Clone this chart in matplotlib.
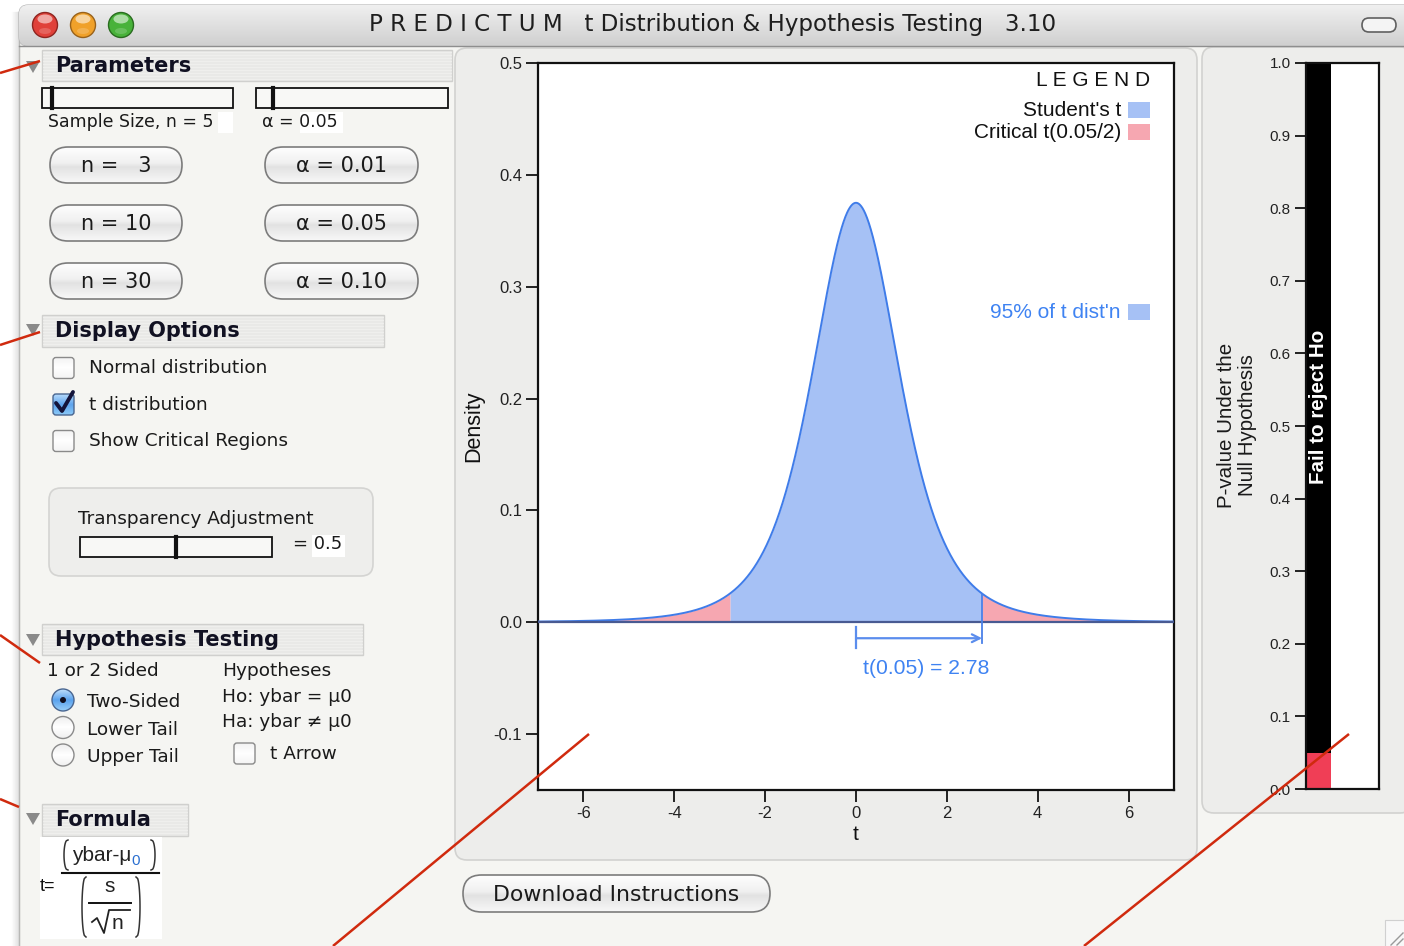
import numpy as np
import matplotlib
matplotlib.use("Agg")
import matplotlib.pyplot as plt
from matplotlib.patches import FancyBboxPatch, Rectangle, Circle, Polygon, Ellipse
from math import gamma, sqrt, pi

# ---------------- data ----------------
sample_size = 5
alpha = 0.05
df = sample_size - 1
t_crit = 2.776
t_crit_text = "t(0.05) = 2.78"
coverage_text = "95% of t dist'n"
x_ticks = [-6, -4, -2, 0, 2, 4, 6]
y_ticks = [0.5, 0.4, 0.3, 0.2, 0.1, 0.0, -0.1]
p_ticks = [1.0, 0.9, 0.8, 0.7, 0.6, 0.5, 0.4, 0.3, 0.2, 0.1, 0.0]
pbar_reject = 0.05
pbar_top = 1.0
n_buttons = ["n =   3", "n = 10", "n = 30"]
alpha_buttons = ["α = 0.01", "α = 0.05", "α = 0.10"]
display_options = ["Normal distribution", "t distribution", "Show Critical Regions"]
display_checked = [False, True, False]
tails = ["Two-Sided", "Lower Tail", "Upper Tail"]
tail_selected = 0
hypotheses = ["Hypotheses", "Ho: ybar = μ0", "Ha: ybar ≠ μ0"]
transparency = 0.5
legend_labels = ["Student's t", "Critical t(0.05/2)"]

BLUE_FILL = '#a6c1f5'
PINK_FILL = '#f6a7b1'
CURVE = '#3f7ce9'
TXT_BLUE = '#3f83f2'
RED_LINE = '#d02a0e'
UI = 'DejaVu Sans'
PL = 'Liberation Sans'

W, H = 1404, 946
fig = plt.figure(figsize=(W / 100, H / 100), dpi=100)
fig.patch.set_facecolor('white')


def px_rect(x0, y0, x1, y1):
    return [x0 / W, 1 - y1 / H, (x1 - x0) / W, (y1 - y0) / H]


bg = fig.add_axes([0, 0, 1, 1], zorder=0)
fg = fig.add_axes([0, 0, 1, 1], zorder=5)
for a in (bg, fg):
    a.set_xlim(0, W)
    a.set_ylim(H, 0)
    a.axis('off')
fg.patch.set_alpha(0)


def hexrgb(c):
    c = c.lstrip('#')
    return np.array([int(c[i:i + 2], 16) / 255 for i in (0, 2, 4)])


def grad(ax, patch, stops, x0, y0, x1, y1, z):
    ax.add_patch(patch)
    n = 128
    pos = np.linspace(0, 1, n)
    sp = [s[0] for s in stops]
    cols = np.array([hexrgb(s[1]) for s in stops])
    arr = np.stack([np.interp(pos, sp, cols[:, k]) for k in range(3)], axis=-1)[:, None, :]
    im = ax.imshow(arr, extent=(x0, x1, y1, y0), aspect='auto', zorder=z,
                   interpolation='bilinear')
    im.set_clip_path(patch)


def paren(ax, xc, y0, y1, side, color='#333333', lw=1.1):
    # side = +1 for "(" (ends curl to the right), -1 for ")"
    s = np.linspace(0, 1, 40)
    bulge = 1 - np.sin(np.pi * s) ** 0.35
    xs = xc + side * 4 * bulge
    ys = y0 + (y1 - y0) * s
    ax.plot(xs, ys, color=color, lw=lw, zorder=4)


# ---------------- window chrome ----------------
bg.add_patch(Rectangle((19, 40), W - 19, H - 40, fc='#f5f5f2', ec='none', zorder=1))
for i in range(8):
    bg.plot([12 + i, 12 + i], [12, H], color='#000000', alpha=0.012 * (i + 1), lw=1, zorder=1)
bg.plot([19, 19], [40, H], color='#b8b8b6', lw=1, zorder=2)

tb = FancyBboxPatch((19, 5), W - 19 + 10, 41, boxstyle='round,pad=0,rounding_size=9',
                    fc='#e4e4e4', ec='#b0b0b0', lw=0.8, zorder=2)
grad(bg, tb, [(0, '#f0f0f0'), (1, '#cfcfcf')], 19, 5, W, 46, 2)
bg.plot([19, W], [46, 46], color='#8e8e8e', lw=1, zorder=3)

for cx, face, edge in [(45, '#e0413a', '#8e2520'), (83, '#f0a12a', '#99621a'), (121, '#48b23a', '#2a6c20')]:
    bg.add_patch(Circle((cx, 25), 12.5, fc=face, ec=edge, lw=1, zorder=4))
    bg.add_patch(Ellipse((cx, 19), 15, 9, fc='white', ec='none', alpha=0.55, zorder=5))
    bg.add_patch(Ellipse((cx, 31), 12, 6, fc='white', ec='none', alpha=0.18, zorder=5))

bg.text(713, 24, "P R E D I C T U M   t Distribution & Hypothesis Testing   3.10",
        family=UI, fontsize=16.6, color='#1e1e1e', ha='center', va='center', zorder=6)
bg.add_patch(FancyBboxPatch((1362, 18), 34, 14, boxstyle='round,pad=0,rounding_size=7',
                            fc='#f4f4f4', ec='#606060', lw=1.2, zorder=6))

# ---------------- left panel ----------------
def header(y0, y1, x1, label, ty):
    bg.add_patch(Rectangle((42, y0), x1 - 42, y1 - y0, fc='#e9e9e7', ec='#d0d0ce', lw=1, zorder=3))
    for yy in np.arange(y0 + 2, y1 - 1, 3):
        bg.plot([43, x1 - 1], [yy, yy], color='#f1f1ef', lw=0.6, zorder=3)
    bg.text(55, (y0 + y1) / 2, label, family=UI, fontsize=15, fontweight='bold',
            color='#111122', ha='left', va='center', zorder=4)
    bg.add_patch(Polygon([(26, ty - 5), (40, ty - 5), (33, ty + 7)], closed=True,
                         fc='#8a8a8a', ec='none', zorder=4))


def slider(x0, y0, x1, y1, thumb):
    bg.add_patch(Rectangle((x0, y0), x1 - x0, y1 - y0, fc='#f8f8f6', ec='#111111', lw=1.3, zorder=4))
    bg.plot([thumb, thumb], [y0, y1], color='#111111', lw=3, zorder=5)


def pill(x0, y0, x1, y1, label, fs=15):
    r = (y1 - y0) / 2
    p = FancyBboxPatch((x0, y0), x1 - x0, y1 - y0, boxstyle='round,pad=0,rounding_size=%f' % r,
                       fc='#eeeeee', ec='none', zorder=4)
    grad(bg, p, [(0, '#fefefe'), (0.45, '#f0f0f0'), (0.55, '#e2e2e2'), (1, '#f8f8f8')],
         x0, y0, x1, y1, 4)
    bg.add_patch(FancyBboxPatch((x0, y0), x1 - x0, y1 - y0,
                                boxstyle='round,pad=0,rounding_size=%f' % r,
                                fc='none', ec='#7c7c7c', lw=1.2, zorder=5))
    bg.text((x0 + x1) / 2, (y0 + y1) / 2 + 1, label, family=UI, fontsize=fs,
            color='#1a1a1a', ha='center', va='center', zorder=6)


def checkbox(x0, y0, checked):
    if checked:
        p = FancyBboxPatch((x0, y0), 21, 21, boxstyle='round,pad=0,rounding_size=3',
                           fc='#6aaaf0', ec='none', zorder=4)
        grad(bg, p, [(0, '#b8dcfc'), (0.5, '#5ea4ee'), (1, '#8ccaf8')], x0, y0, x0 + 21, y0 + 21, 4)
        bg.add_patch(FancyBboxPatch((x0, y0), 21, 21, boxstyle='round,pad=0,rounding_size=3',
                                    fc='none', ec='#4a6690', lw=1, zorder=5))
        bg.plot([x0 + 3, x0 + 9, x0 + 20], [y0 + 9, y0 + 17, y0 - 2], color='#14143a',
                lw=2.8, solid_capstyle='round', zorder=6)
    else:
        p = FancyBboxPatch((x0, y0), 21, 21, boxstyle='round,pad=0,rounding_size=3',
                           fc='white', ec='none', zorder=4)
        grad(bg, p, [(0, '#f2f2f2'), (0.5, '#ffffff'), (1, '#f4f4f4')], x0, y0, x0 + 21, y0 + 21, 4)
        bg.add_patch(FancyBboxPatch((x0, y0), 21, 21, boxstyle='round,pad=0,rounding_size=3',
                                    fc='none', ec='#8a8a8a', lw=1, zorder=5))


header(50, 81, 452, "Parameters", 66)
slider(42, 88, 233, 108, 52)
slider(256, 88, 448, 108, 273)
bg.add_patch(Rectangle((218, 112), 15, 21, fc='white', ec='none', zorder=3))
bg.add_patch(Rectangle((300, 112), 43, 21, fc='white', ec='none', zorder=3))
bg.text(48, 122, "Sample Size, n = %d" % sample_size, family=UI, fontsize=12.5,
        color='#1a1a1a', ha='left', va='center', zorder=4)
bg.text(262, 122, "α = %.2f" % alpha, family=UI, fontsize=12.5, color='#1a1a1a',
        ha='left', va='center', zorder=4)
for i, (nb, ab) in enumerate(zip(n_buttons, alpha_buttons)):
    yc = 165 + 58 * i
    pill(50, yc - 18, 182, yc + 18, nb)
    pill(265, yc - 18, 418, yc + 18, ab)

header(315, 347, 384, "Display Options", 329)
for i, (lab, chk) in enumerate(zip(display_options, display_checked)):
    yc = 368 + 36.5 * i
    checkbox(53, yc - 10.5, chk)
    bg.text(89, yc, lab, family=UI, fontsize=13.3, color='#1a1a1a', ha='left',
            va='center', zorder=4)

bg.add_patch(FancyBboxPatch((49, 488), 324, 88, boxstyle='round,pad=0,rounding_size=12',
                            fc='#eeeeec', ec='#d4d4d2', lw=1.2, zorder=3))
bg.text(78, 519, "Transparency Adjustment", family=UI, fontsize=13.3, color='#1a1a1a',
        ha='left', va='center', zorder=4)
slider(80, 537, 272, 557, 80 + (272 - 80) * transparency)
bg.add_patch(Rectangle((312, 535), 33, 22, fc='white', ec='none', zorder=4))
bg.text(293, 544, "= %.1f" % transparency, family=UI, fontsize=13, color='#1a1a1a',
        ha='left', va='center', zorder=5)

header(624, 655, 363, "Hypothesis Testing", 639)
bg.text(47, 671, "1 or 2 Sided", family=UI, fontsize=13.3, color='#1a1a1a', ha='left',
        va='center', zorder=4)
for i, lab in enumerate(tails):
    yc = 700 + 27.5 * i
    if i == tail_selected:
        c = Circle((63, yc), 11, fc='#6aaaf0', ec='none', zorder=4)
        grad(bg, c, [(0, '#c0e0fc'), (0.5, '#5aa2ee'), (1, '#9ad0fa')], 52, yc - 11, 74, yc + 11, 4)
        bg.add_patch(Circle((63, yc), 11, fc='none', ec='#4a6690', lw=1, zorder=5))
        bg.add_patch(Circle((63, yc), 3, fc='#101020', ec='none', zorder=6))
    else:
        c = Circle((63, yc), 11, fc='white', ec='none', zorder=4)
        grad(bg, c, [(0, '#eeeeee'), (0.5, '#ffffff'), (1, '#f0f0f0')], 52, yc - 11, 74, yc + 11, 4)
        bg.add_patch(Circle((63, yc), 11, fc='none', ec='#8a8a8a', lw=1, zorder=5))
    bg.text(87, yc + 2, lab, family=UI, fontsize=13.3, color='#1a1a1a', ha='left',
            va='center', zorder=4)
for i, lab in enumerate(hypotheses):
    bg.text(222, 671 + 25.5 * i, lab, family=UI, fontsize=13.3, color='#1a1a1a',
            ha='left', va='center', zorder=4)
checkbox(234, 743, False)
bg.text(270, 754, "t Arrow", family=UI, fontsize=13.3, color='#1a1a1a', ha='left',
        va='center', zorder=4)

header(804, 836, 188, "Formula", 818)
bg.add_patch(Rectangle((40, 837), 122, 102, fc='white', ec='none', zorder=3))
bg.text(40, 886, "t=", family=PL, fontsize=13, color='#111111', ha='left', va='center', zorder=4)
paren(bg, 64, 840, 870, 1)
bg.text(72, 855, "ybar-μ", family=PL, fontsize=15, color='#222222', ha='left', va='center', zorder=4)
bg.text(131, 861, "0", family=PL, fontsize=11, color='#2a6fd0', ha='left', va='center', zorder=4)
paren(bg, 155, 840, 870, -1)
bg.plot([62, 159], [873, 873], color='#111111', lw=1.5, zorder=4)
paren(bg, 82, 877, 937, 1)
paren(bg, 140, 877, 937, -1)
bg.text(110, 886, "s", family=PL, fontsize=15, color='#222222', ha='center', va='center', zorder=4)
bg.plot([89, 131], [903, 903], color='#111111', lw=1.4, zorder=4)
bg.plot([92, 97, 104, 109, 130], [922, 918, 933, 910, 910], color='#222222', lw=1.3, zorder=4)
bg.text(112, 923, "n", family=PL, fontsize=15, color='#222222', ha='left', va='center', zorder=4)

# ---------------- panels ----------------
bg.add_patch(FancyBboxPatch((455, 48), 742, 812, boxstyle='round,pad=0,rounding_size=12',
                            fc='#ededeb', ec='#d2d2d0', lw=1.2, zorder=2))
bg.add_patch(FancyBboxPatch((1202, 47), 210, 766, boxstyle='round,pad=0,rounding_size=12',
                            fc='#ededeb', ec='#d2d2d0', lw=1.2, zorder=2))
pill(463, 875, 770, 912, "Download Instructions", fs=15.8)
# resize grip
bg.add_patch(Rectangle((1385, 920), 25, 30, fc='#f8f8f8', ec='#d0d0d0', lw=0.8, zorder=3))
for k in (0, 6):
    bg.plot([1391 + k, 1403], [945, 933 + k], color='#9a9a9a', lw=1, zorder=4)

# ---------------- main plot ----------------
ax = fig.add_axes(px_rect(538, 63, 1174, 790), zorder=2)
ax.set_facecolor('white')
ax.set_xlim(-7, 7)
ax.set_ylim(-0.15, 0.5)
cst = gamma((df + 1) / 2) / (sqrt(df * pi) * gamma(df / 2))


def tpdf(t):
    return cst * (1 + t ** 2 / df) ** (-(df + 1) / 2)


xm = np.linspace(-t_crit, t_crit, 600)
xl = np.linspace(-7, -t_crit, 300)
xr = np.linspace(t_crit, 7, 300)
xa = np.linspace(-7, 7, 1400)
ax.fill_between(xm, 0, tpdf(xm), color=BLUE_FILL, lw=0, zorder=2)
ax.fill_between(xl, 0, tpdf(xl), color=PINK_FILL, lw=0, zorder=2)
ax.fill_between(xr, 0, tpdf(xr), color=PINK_FILL, lw=0, zorder=2)
ax.plot(xa, tpdf(xa), color=CURVE, lw=1.4, zorder=3)
ax.plot([-7, 7], [0, 0], color='#485a92', lw=1.6, zorder=4)
ax.plot([t_crit, t_crit], [tpdf(t_crit), -0.019], color='#4a80e8', lw=1.3, zorder=4)
ax.plot([0, 0], [-0.0045, -0.023], color='#5b8ded', lw=1.6, zorder=4)
ax.annotate('', xy=(t_crit, -0.0143), xytext=(0, -0.0143),
            arrowprops=dict(arrowstyle='->', color='#5b8ded', lw=1.6,
                            shrinkA=0, shrinkB=0, mutation_scale=14), zorder=4)
ax.text(1.55, -0.041, t_crit_text, family=PL, fontsize=15.2, color=TXT_BLUE,
        ha='center', va='center', zorder=5)

ax.set_xticks(x_ticks)
ax.set_xticklabels([str(v) for v in x_ticks])
ax.set_yticks(y_ticks)
ax.set_yticklabels(["%.1f" % v for v in y_ticks])
ax.tick_params(direction='out', length=8.5, width=1.3, color='#111111', labelcolor='#222222',
               labelsize=12, pad=3)
for lab in ax.get_xticklabels() + ax.get_yticklabels():
    lab.set_family(PL)
for s in ax.spines.values():
    s.set_linewidth(1.6)
    s.set_color('#111111')
ax.set_xlabel("t", family=PL, fontsize=15, color='#111111', labelpad=3)
ax.set_ylabel("Density", family=PL, fontsize=15.5, color='#111111', labelpad=7)

# legend (pixel coords overlay)
fg.text(1150, 81, "L E G E N D", family=PL, fontsize=15, color='#111111', ha='right', va='center')
fg.text(1121, 110, legend_labels[0], family=PL, fontsize=15, color='#111111', ha='right', va='center')
fg.text(1121, 133, legend_labels[1], family=PL, fontsize=15, color='#111111', ha='right', va='center')
fg.add_patch(Rectangle((1128, 102), 22, 16, fc=BLUE_FILL, ec='none'))
fg.add_patch(Rectangle((1128, 124), 22, 16, fc=PINK_FILL, ec='none'))
fg.text(1121, 312, coverage_text, family=PL, fontsize=15, color=TXT_BLUE, ha='right', va='center')
fg.add_patch(Rectangle((1128, 304), 22, 16, fc=BLUE_FILL, ec='none'))

# ---------------- p-value bar ----------------
axp = fig.add_axes(px_rect(1306, 63, 1379, 789), zorder=2)
axp.set_facecolor('white')
axp.set_xlim(0, 1)
axp.set_ylim(0, 1)
bw = 0.34
axp.bar(0, pbar_top - pbar_reject, bottom=pbar_reject, width=bw, align='edge', color='black', zorder=2)
axp.bar(0, pbar_reject, bottom=0, width=bw, align='edge', color='#f03e56', zorder=2)
axp.text(bw / 2, 0.526, "Fail to reject Ho", rotation=90, family=PL, fontsize=14.8,
         fontweight='bold', color='white', ha='center', va='center', zorder=3)
axp.set_xticks([])
axp.set_yticks(p_ticks)
axp.set_yticklabels(["%.1f" % v for v in p_ticks])
axp.tick_params(axis='y', direction='out', length=8, width=1.3, color='#111111',
                labelcolor='#222222', labelsize=11, pad=3)
for lab in axp.get_yticklabels():
    lab.set_family(PL)
for s in axp.spines.values():
    s.set_linewidth(1.6)
    s.set_color('#111111')
fg.text(1237, 425, "P-value Under the\nNull Hypothesis", rotation=90, family=PL,
        fontsize=14.8, color='#1a1a1a', ha='center', va='center', multialignment='center',
        linespacing=1.15)

# ---------------- red annotation lines ----------------
for (xa0, ya0, xa1, ya1) in [(0, 73, 40, 61), (0, 345, 40, 332), (0, 635, 40, 663),
                             (0, 799, 19, 807), (333, 946, 589, 734), (1084, 946, 1349, 734)]:
    fg.plot([xa0, xa1], [ya0, ya1], color=RED_LINE, lw=1.8, solid_capstyle='butt')

for a in (bg, fg):
    a.set_xlim(0, W)
    a.set_ylim(H, 0)

fig.savefig("out.png", dpi=100)
